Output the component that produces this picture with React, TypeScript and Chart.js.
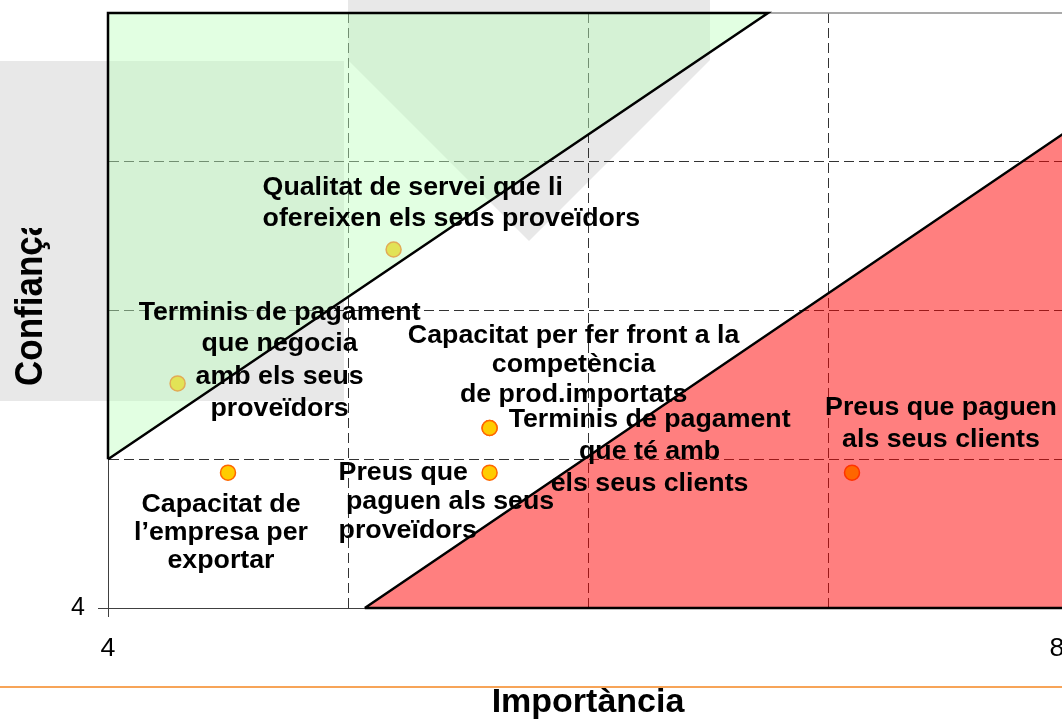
import React, { useEffect, useRef } from 'react';
import { Chart, registerables } from 'chart.js';

Chart.register(...registerables);

// ---------- data ----------
const pointNames = [
  'Qualitat de servei',
  'Terminis de pagament (proveïdors)',
  'Capacitat d’exportar',
  'Competència de prod. importats',
  'Terminis de pagament (clients)',
  'Preus als proveïdors',
  'Preus dels clients',
];
const importance = [5.19, 4.29, 4.5, 5.59, 5.59, 5.59, 7.1];
const confidence = [6.41, 5.51, 4.91, 5.21, 5.21, 4.91, 4.91];
const labelLines: string[][] = [
  ['Qualitat de servei que li', 'ofereixen els seus proveïdors'],
  ['Terminis de pagament', 'que negocia', 'amb els seus', 'proveïdors'],
  ['Capacitat de', 'l’empresa per', 'exportar'],
  ['Capacitat per fer front a la', 'competència', 'de prod.importats'],
  ['Terminis de pagament', 'que té amb', 'els seus clients'],
  ['Preus que', ' paguen als seus', 'proveïdors'],
  ['Preus que paguen', 'als seus clients'],
];
const greenZoneX = [4, 6.75];
const greenZoneY = [5, 8];
const redZoneX = [5.07, 8];
const redZoneY = [4, 7.21];
const axisMin = 4;
const axisMax = 8;
const xTickValues = [4, 8];
const yTickValues = [4];
const xTitle = 'Importància';
const yTitle = 'Confiança';

// ---------- styling / label placement (pixel offsets from the point) ----------
const FONT = '"Liberation Sans", Arial, Helvetica, sans-serif';
const labelLayout: { align: CanvasTextAlign; dx: number; dy: number[] }[] = [
  { align: 'left', dx: -131, dy: [-61, -30] },
  { align: 'center', dx: 102, dy: [-70, -39, -6, 26] },
  { align: 'center', dx: -7, dy: [32, 60, 88] },
  { align: 'center', dx: 84, dy: [-92, -63, -33] },
  { align: 'center', dx: 160, dy: [-8, 24, 56] },
  { align: 'left', dx: -151, dy: [0, 29, 58] },
  { align: 'center', dx: 89, dy: [-65, -33] },
];

const gridColor = (v: number) => (v > axisMin && v < axisMax ? '#333333' : 'rgba(0,0,0,0)');

function drawStretched(ctx: CanvasRenderingContext2D, text: string, x: number, y: number, align: CanvasTextAlign, sx: number) {
  ctx.save();
  ctx.translate(x, y);
  ctx.scale(sx, 1);
  ctx.textAlign = align;
  ctx.fillText(text, 0, 0);
  ctx.restore();
}

const decorPlugin = {
  id: 'decor',
  beforeDraw(chart: any) {
    const ctx: CanvasRenderingContext2D = chart.ctx;
    ctx.save();
    ctx.fillStyle = '#ffffff';
    ctx.fillRect(0, 0, chart.width, chart.height);
    ctx.fillStyle = '#e8e8e8';
    ctx.fillRect(0, 61, 344, 340);
    ctx.beginPath();
    ctx.moveTo(348, 0);
    ctx.lineTo(710, 0);
    ctx.lineTo(710, 60);
    ctx.lineTo(529, 241);
    ctx.lineTo(348, 60);
    ctx.closePath();
    ctx.fill();
    ctx.strokeStyle = '#f7a458';
    ctx.lineWidth = 2;
    ctx.beginPath();
    ctx.moveTo(0, 687);
    ctx.lineTo(chart.width, 687);
    ctx.stroke();
    ctx.restore();
  },
  beforeDatasetsDraw(chart: any) {
    const { ctx, chartArea } = chart;
    ctx.save();
    ctx.strokeStyle = '#8c8c8c';
    ctx.lineWidth = 1.5;
    ctx.beginPath();
    ctx.moveTo(chartArea.left, chartArea.top);
    ctx.lineTo(chartArea.right, chartArea.top);
    ctx.stroke();
    ctx.restore();
  },
  afterDatasetsDraw(chart: any) {
    const ctx: CanvasRenderingContext2D = chart.ctx;
    const xs = chart.scales.x;
    const ys = chart.scales.y;
    ctx.save();
    ctx.fillStyle = '#000';
    ctx.textBaseline = 'middle';
    ctx.font = `bold 25px ${FONT}`;
    labelLines.forEach((lines, i) => {
      const px = xs.getPixelForValue(importance[i]);
      const py = ys.getPixelForValue(confidence[i]);
      const lay = labelLayout[i];
      lines.forEach((t, j) => drawStretched(ctx, t, px + lay.dx, py + lay.dy[j], lay.align, 1.07));
    });
    // x tick labels
    ctx.font = `25px ${FONT}`;
    xTickValues.forEach((v) => {
      const px = Math.min(xs.getPixelForValue(v), 1057);
      drawStretched(ctx, String(v), px, ys.bottom + 41, 'center', 1.07);
    });
    // y title (clipped like the original text box)
    ctx.save();
    ctx.beginPath();
    ctx.rect(0, 228, 100, 420);
    ctx.clip();
    ctx.font = `bold 35px ${FONT}`;
    ctx.textBaseline = 'alphabetic';
    ctx.textAlign = 'left';
    ctx.translate(42, 386);
    ctx.scale(1.12, 1);
    ctx.rotate(-Math.PI / 2);
    ctx.fillText(yTitle, 0, 0);
    ctx.restore();
    ctx.restore();
  },
};

export default function App() {
  const ref = useRef<HTMLCanvasElement>(null);
  useEffect(() => {
    const canvas = ref.current!;
    const chart = new Chart(canvas, {
      type: 'scatter',
      data: {
        datasets: [
          {
            label: 'Punts',
            data: importance.map((x, i) => ({ x, y: confidence[i] })),
            pointRadius: 7.5,
            pointBackgroundColor: '#FFCC00',
            pointBorderColor: '#FF6600',
            pointBorderWidth: 1.5,
            order: 3,
          } as any,
          {
            label: 'Zona verda',
            data: greenZoneX.map((x, i) => ({ x, y: greenZoneY[i] })),
            showLine: true,
            pointRadius: 0,
            borderColor: 'rgba(0,0,0,0)',
            borderWidth: 1,
            fill: 'end',
            backgroundColor: 'rgba(190,255,190,0.45)',
            order: 2,
          },
          {
            label: 'Zona vermella',
            data: redZoneX.map((x, i) => ({ x, y: redZoneY[i] })),
            showLine: true,
            pointRadius: 0,
            borderColor: 'rgba(0,0,0,0)',
            borderWidth: 1,
            fill: 'start',
            backgroundColor: 'rgba(255,0,0,0.5)',
            order: 2,
          },
          {
            label: 'Vora verda',
            data: [
              { x: greenZoneX[0], y: greenZoneY[0] },
              { x: greenZoneX[1], y: greenZoneY[1] },
              { x: greenZoneX[0], y: greenZoneY[1] },
              { x: greenZoneX[0], y: greenZoneY[0] },
            ],
            showLine: true,
            pointRadius: 0,
            borderColor: '#000',
            borderWidth: 2.5,
            fill: false,
            clip: false,
            order: 1,
          } as any,
          {
            label: 'Vora vermella',
            data: [
              { x: redZoneX[0], y: redZoneY[0] },
              { x: redZoneX[1], y: redZoneY[1] },
              { x: redZoneX[1], y: redZoneY[0] },
              { x: redZoneX[0], y: redZoneY[0] },
            ],
            showLine: true,
            pointRadius: 0,
            borderColor: '#000',
            borderWidth: 2.5,
            fill: false,
            clip: false,
            order: 1,
          } as any,
        ],
      },
      options: {
        animation: false,
        responsive: false,
        maintainAspectRatio: false,
        layout: { padding: { left: 0, top: 13, right: 32, bottom: 0 } },
        plugins: { legend: { display: false }, tooltip: { enabled: false } },
        scales: {
          x: {
            type: 'linear',
            min: axisMin,
            max: axisMax,
            ticks: { display: false, stepSize: 1 },
            grid: {
              color: (c: any) => gridColor(c.tick.value),
              lineWidth: 1,
              drawTicks: true,
              tickLength: 9,
              tickWidth: 1,
              tickColor: (c: any) => (c.tick.value === axisMin ? '#404040' : 'rgba(0,0,0,0)'),
            },
            border: { display: true, color: '#404040', width: 1, dash: [10, 5] },
            title: {
              display: true,
              text: xTitle,
              color: '#000',
              font: { family: FONT, size: 34, weight: 'bold', lineHeight: 1 },
              padding: 0,
            },
            afterFit: (s: any) => {
              s.height = 112;
              s.paddingLeft = 0;
              s.paddingRight = 0;
            },
          } as any,
          y: {
            type: 'linear',
            min: axisMin,
            max: axisMax,
            ticks: {
              stepSize: 1,
              padding: 13,
              color: '#000',
              font: { family: FONT, size: 25 },
              callback: (v: any) => (yTickValues.includes(Number(v)) ? String(v) : ''),
            },
            grid: {
              color: (c: any) => gridColor(c.tick.value),
              lineWidth: 1,
              drawTicks: true,
              tickLength: 10,
              tickWidth: 1,
              tickColor: (c: any) => (c.tick.value === axisMin ? '#404040' : 'rgba(0,0,0,0)'),
            },
            border: { display: true, color: '#404040', width: 1, dash: [10, 5] },
            afterFit: (s: any) => {
              s.width = 108;
              s.paddingTop = 0;
              s.paddingBottom = 0;
            },
          } as any,
        },
      },
      plugins: [decorPlugin],
    });
    return () => chart.destroy();
  }, []);
  return (
    <div
      style={{
        position: 'fixed',
        left: 0,
        top: 0,
        width: 1062,
        height: 720,
        overflow: 'hidden',
        background: '#fff',
      }}
    >
      <canvas ref={ref} width={1100} height={720} style={{ display: 'block', width: 1100, height: 720 }} />
    </div>
  );
}
